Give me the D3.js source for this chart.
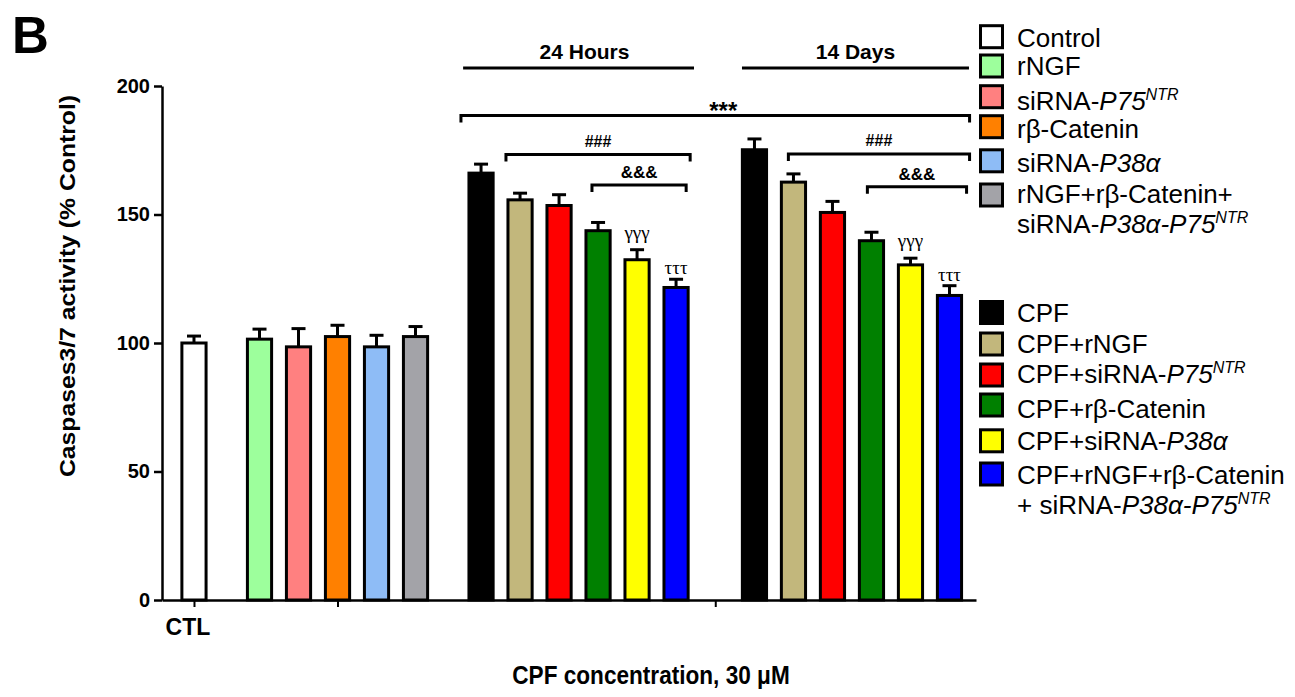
<!DOCTYPE html>
<html><head><meta charset="utf-8">
<script src="https://cdn.jsdelivr.net/npm/d3@7"></script>
<style>
body{margin:0;background:#fff}
svg{display:block}
text{font-family:"Liberation Sans",Arial,Helvetica,sans-serif;fill:#000}
</style>
</head><body>
<svg id="chart" width="1295" height="697"></svg>
<script>
// ---------------- DATA ----------------
const panelLabel = "B";
const yTitle = "Caspases3/7 activity (% Control)";
const xTitle = "CPF concentration, 30 \u03BCM";
const yTicks = [0, 50, 100, 150, 200];
const xTickLabels = ["CTL", "", ""];

const ctlNames = ["Control"];
const ctlValues = [100];
const ctlErrors = [2.7];

const treatmentNames = ["rNGF", "siRNA-P75NTR", "r\u03B2-Catenin", "siRNA-P38\u03B1", "rNGF+r\u03B2-Catenin+siRNA-P38\u03B1-P75NTR"];
const treatmentValues = [101.5, 98.5, 102.5, 98.5, 102.5];
const treatmentErrors = [3.9, 7.1, 4.4, 4.5, 3.9];

const cpfNames = ["CPF", "CPF+rNGF", "CPF+siRNA-P75NTR", "CPF+r\u03B2-Catenin", "CPF+siRNA-P38\u03B1", "CPF+rNGF+r\u03B2-Catenin+siRNA-P38\u03B1-P75NTR"];
const cpf24hValues = [166.1, 155.7, 153.5, 143.7, 132.4, 121.6];
const cpf24hErrors = [3.5, 2.6, 4.2, 3.2, 3.9, 3.2];
const cpf14dValues = [175.2, 162.6, 150.8, 139.8, 130.4, 118.5];
const cpf14dErrors = [4.2, 3.2, 4.3, 3.3, 2.6, 3.8];

const groupHeaders = ["24 Hours", "14 Days"];
const sigMarks = ["***", "###", "&&&", "###", "&&&"];
const barMarks24h = ["", "", "", "", "\u03B3\u03B3\u03B3", "\u03C4\u03C4\u03C4"];
const barMarks14d = ["", "", "", "", "\u03B3\u03B3\u03B3", "\u03C4\u03C4\u03C4"];

// legend labels (simple markup: <i> italic, <sup> superscript)
const legendTopLabels = [
  ["Control"], ["rNGF"], ["siRNA-<i>P75</i><sup>NTR</sup>"], ["r\u03B2-Catenin"],
  ["siRNA-<i>P38\u03B1</i>"], ["rNGF+r\u03B2-Catenin+", "siRNA-<i>P38\u03B1-P75</i><sup>NTR</sup>"]
];
const legendBottomLabels = [
  ["CPF"], ["CPF+rNGF"], ["CPF+siRNA-<i>P75</i><sup>NTR</sup>"], ["CPF+r\u03B2-Catenin"],
  ["CPF+siRNA-<i>P38\u03B1</i>"], ["CPF+rNGF+r\u03B2-Catenin", "+ siRNA-<i>P38\u03B1-P75</i><sup>NTR</sup>"]
];

// ---------------- STYLE / LAYOUT ----------------
const baseColors = ["#ffffff", "#9dff9c", "#ff8080", "#ff8000", "#8ebcf6", "#a3a3a8"];
const cpfColors = ["#000000", "#c2b77c", "#ff0000", "#008000", "#ffff00", "#0000ff"];

const svg = d3.select("#chart");
const y = d3.scaleLinear().domain([0, 200]).range([600, 86]);
const x = d3.scaleLinear().domain([0, 20.87]).range([162, 976]);
const step = x(1) - x(0);
const barW = step * 0.62;

// first slot of each group along the axis
const groupStart = [0.82, 2.5, 8.18, 15.19];

const groups = [
  {values: ctlValues, errors: ctlErrors, colors: [baseColors[0]], marks: null},
  {values: treatmentValues, errors: treatmentErrors, colors: baseColors.slice(1), marks: null},
  {values: cpf24hValues, errors: cpf24hErrors, colors: cpfColors, marks: barMarks24h},
  {values: cpf14dValues, errors: cpf14dErrors, colors: cpfColors, marks: barMarks14d}
];
const bars = [];
groups.forEach((g, gi) => g.values.forEach((v, i) => bars.push({
  g: gi, i, pos: groupStart[gi] + i, value: v, err: g.errors[i], color: g.colors[i],
  mark: g.marks ? g.marks[i] : ""
})));
const cx = (gi, i) => x(groupStart[gi] + i);

// ---------------- AXES ----------------
const yAxis = svg.append("g").attr("transform", `translate(${x(0)},0)`)
  .call(d3.axisLeft(y).tickValues(yTicks).tickSize(8).tickPadding(4).tickSizeOuter(0));
yAxis.select(".domain").attr("stroke", "#000").attr("stroke-width", 2.5);
yAxis.selectAll(".tick line").attr("stroke", "#000").attr("stroke-width", 2.5);
yAxis.selectAll(".tick text").style("font-family", "'Liberation Sans',Arial,sans-serif")
  .style("font-weight", "bold").style("font-size", "20px").attr("fill", "#000");

const xTickPos = [groupStart[0], groupStart[1] + 2, (groupStart[2] + 5 + groupStart[3]) / 2];
const xAxis = svg.append("g").attr("transform", `translate(0,${y(0)})`)
  .call(d3.axisBottom(x).tickValues(xTickPos).tickSize(7).tickSizeOuter(0).tickFormat(() => ""));
xAxis.select(".domain").attr("stroke", "#000").attr("stroke-width", 2.5);
xAxis.selectAll(".tick line").attr("stroke", "#000").attr("stroke-width", 2);

svg.append("text").attr("x", x(xTickPos[0]) - 6).attr("y", 635).attr("text-anchor", "middle")
  .style("font-weight", "bold").style("font-size", "23px").text(xTickLabels[0]);

// ---------------- BARS ----------------
const barG = svg.append("g");
barG.selectAll("rect").data(bars).join("rect")
  .attr("x", d => x(d.pos) - barW / 2).attr("width", barW)
  .attr("y", d => y(d.value)).attr("height", d => y(0) - y(d.value))
  .attr("fill", d => d.color).attr("stroke", "#000").attr("stroke-width", 3);

const errG = svg.append("g").attr("stroke", "#000").attr("stroke-width", 3);
errG.selectAll("line.v").data(bars).join("line").attr("class", "v")
  .attr("x1", d => x(d.pos)).attr("x2", d => x(d.pos))
  .attr("y1", d => y(d.value)).attr("y2", d => y(d.value + d.err));
errG.selectAll("line.c").data(bars).join("line").attr("class", "c")
  .attr("x1", d => x(d.pos) - 7).attr("x2", d => x(d.pos) + 7)
  .attr("y1", d => y(d.value + d.err)).attr("y2", d => y(d.value + d.err));

// greek marks above bars
svg.append("g").selectAll("text").data(bars.filter(d => d.mark)).join("text")
  .attr("x", d => x(d.pos)).attr("text-anchor", "middle")
  .attr("y", d => y(d.value + d.err) - (d.mark.startsWith("\u03B3") ? 11 : 5))
  .style("font-family", "'Liberation Serif','Times New Roman',serif").style("font-size", "19px")
  .text(d => d.mark);

// ---------------- ANNOTATIONS ----------------
const headerLayout = [{g: 2, l: -0.46, r: 0.46}, {g: 3, l: -0.32, r: 0.5}];
headerLayout.forEach((h, k) => {
  const x1 = cx(h.g, 0) + h.l * step, x2 = cx(h.g, 5) + h.r * step;
  svg.append("line").attr("x1", x1).attr("x2", x2).attr("y1", y(207)).attr("y2", y(207))
    .attr("stroke", "#000").attr("stroke-width", 3);
  svg.append("text").attr("x", (x1 + x2) / 2 + (k === 0 ? 6 : 0)).attr("y", y(207) - 9)
    .attr("text-anchor", "middle").style("font-weight", "bold").style("font-size", "21px")
    .text(groupHeaders[k]);
});

const bracketLayout = [
  {a: [2, 0, -8 - barW / 2], b: [3, 5, 8 + barW / 2], v: 188.5, size: 24, dx: 8, dy: 3},
  {a: [2, 1, -2 - barW / 2], b: [2, 5, 2 + barW / 2], v: 173.3, size: 16, dx: 0, dy: -8},
  {a: [2, 3, 6 - barW / 2], b: [2, 5, -2 + barW / 2], v: 161.5, size: 17, dx: 0, dy: -7},
  {a: [3, 1, 7 - barW / 2], b: [3, 5, 8 + barW / 2], v: 173.5, size: 16, dx: 0, dy: -8},
  {a: [3, 3, 8 - barW / 2], b: [3, 5, 5 + barW / 2], v: 160.8, size: 17, dx: 0, dy: -7}
];
bracketLayout.forEach((b, k) => {
  const x1 = cx(b.a[0], b.a[1]) + b.a[2], x2 = cx(b.b[0], b.b[1]) + b.b[2], yy = y(b.v);
  svg.append("path").attr("d", `M${x1},${yy + 7}V${yy}H${x2}V${yy + 7}`)
    .attr("fill", "none").attr("stroke", "#000").attr("stroke-width", 3);
  svg.append("text").attr("x", (x1 + x2) / 2 + b.dx).attr("y", yy + b.dy)
    .attr("text-anchor", "middle").style("font-weight", "bold").style("font-size", b.size + "px")
    .text(sigMarks[k]);
});

// ---------------- TITLES ----------------
svg.append("text").attr("x", 12).attr("y", 53).style("font-weight", "bold")
  .style("font-size", "51px").text(panelLabel);

svg.append("text").attr("transform", `translate(75,286) scale(1,1.1) rotate(-90)`)
  .attr("text-anchor", "middle").style("font-weight", "bold").style("font-size", "22.5px")
  .text(yTitle);

svg.append("text").attr("transform", `translate(651,684) scale(1,1.15)`)
  .attr("text-anchor", "middle").style("font-weight", "bold").style("font-size", "22.6px")
  .text(xTitle);

// ---------------- LEGEND ----------------
function addRich(sel, str) {
  str.split(/(<i>.*?<\/i>|<sup>.*?<\/sup>)/).filter(s => s).forEach(s => {
    if (s.startsWith("<i>")) sel.append("tspan").style("font-style", "italic").text(s.slice(3, -4));
    else if (s.startsWith("<sup>")) sel.append("tspan").style("font-style", "italic")
      .style("font-size", "16px").attr("dy", -10).text(s.slice(5, -6));
    else sel.append("tspan").text(s);
  });
}
const legendLayout = [
  {labels: legendTopLabels, colors: baseColors, sq: [36.7, 66, 96.7, 126.7, 160.8, 195],
   base: [47, 75, 110, 138, 172, 203], second: 233},
  {labels: legendBottomLabels, colors: cpfColors, sq: [312.5, 344, 375, 405, 440.8, 474],
   base: [322, 353, 383, 418, 450, 484], second: 514}
];
legendLayout.forEach(L => {
  L.labels.forEach((lab, i) => {
    svg.append("rect").attr("x", 980.5).attr("y", L.sq[i] - 11).attr("width", 22).attr("height", 22)
      .attr("fill", L.colors[i]).attr("stroke", "#000").attr("stroke-width", 3);
    lab.forEach((line, j) => {
      const t = svg.append("text").attr("x", 1017).attr("y", j === 0 ? L.base[i] : L.second)
        .style("font-size", "26px");
      addRich(t, line);
    });
  });
});
</script>
</body></html>
